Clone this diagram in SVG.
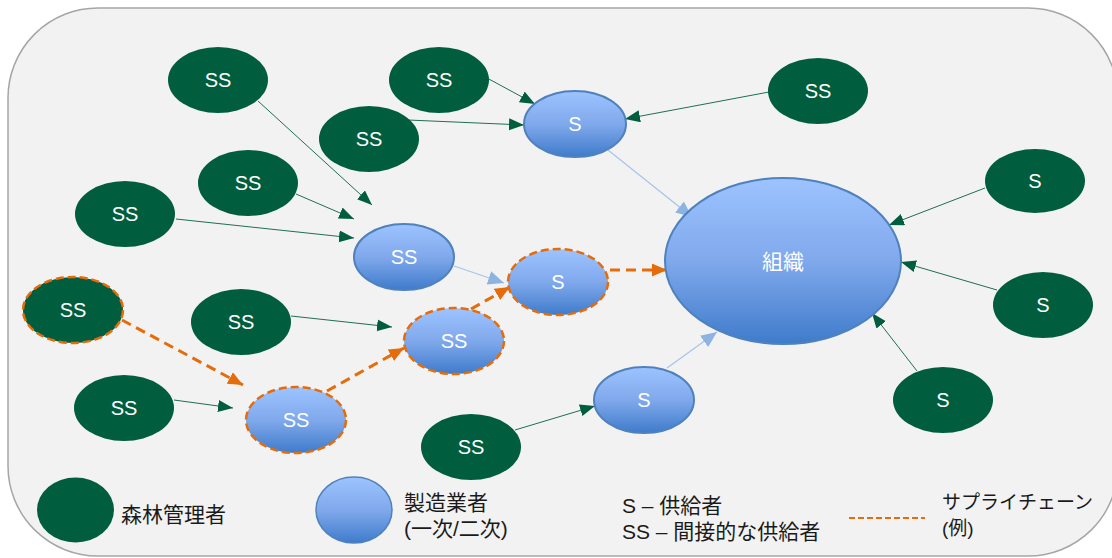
<svg xmlns="http://www.w3.org/2000/svg" width="1112" height="558" viewBox="0 0 1112 558">
<defs>
<linearGradient id="blueGrad" x1="0" y1="0" x2="0" y2="1">
<stop offset="0" stop-color="#9DC3FF"/>
<stop offset="0.5" stop-color="#80A9EC"/>
<stop offset="1" stop-color="#3F7BCB"/>
</linearGradient>
<marker id="arrG" markerUnits="userSpaceOnUse" markerWidth="16" markerHeight="13" refX="15" refY="6" orient="auto">
<path d="M0,0 L15,6 L0,12 Z" fill="#005E3E"/>
</marker>
<marker id="arrB" markerUnits="userSpaceOnUse" markerWidth="17" markerHeight="15" refX="16" refY="7" orient="auto">
<path d="M0,0 L16,7 L0,14 Z" fill="#8DB3E2"/>
</marker>
<marker id="arrO" markerUnits="userSpaceOnUse" markerWidth="16" markerHeight="14" refX="15" refY="6.5" orient="auto">
<path d="M0,0 L15,6.5 L0,13 Z" fill="#E46C0A"/>
</marker>
<style>
.g { fill:#005E3E; }
.b { fill:url(#blueGrad); stroke:#4F81BD; stroke-width:2; }
.bd { fill:url(#blueGrad); stroke:#E46C0A; stroke-width:2.5; stroke-dasharray:8 4; }
.gd { fill:#005E3E; stroke:#E46C0A; stroke-width:2.5; stroke-dasharray:8 4; }
.lbl { font-family:'Liberation Sans','Noto Sans CJK JP',sans-serif; font-size:20px; fill:#FFFFFF; text-anchor:middle; }
.org { font-size:21px; }
.leg { font-family:'Liberation Sans','Noto Sans CJK JP',sans-serif; font-size:21px; fill:#1A1A1A; }
.leg.sm { font-size:19px; }
.cg { stroke:#1F6F50; stroke-width:1; fill:none; marker-end:url(#arrG); }
.cb { stroke:#A7C4EA; stroke-width:1.2; fill:none; marker-end:url(#arrB); }
.co { stroke:#E46C0A; stroke-width:3; stroke-dasharray:10 6; fill:none; marker-end:url(#arrO); }
</style>
</defs>
<rect x="8" y="8" width="1110" height="548" rx="90" ry="90" fill="#F2F2F2" stroke="#A6A6A6" stroke-width="1.5"/>

<g id="connectors">
<line class="cg" x1="258" y1="101" x2="372" y2="205"/>
<line class="cg" x1="296" y1="194" x2="354" y2="219"/>
<line class="cg" x1="176" y1="219" x2="354" y2="238"/>
<line class="cg" x1="487" y1="78" x2="535" y2="104"/>
<line class="cg" x1="408" y1="120" x2="524" y2="125"/>
<line class="cg" x1="769" y1="92" x2="625" y2="119"/>
<line class="cg" x1="985" y1="188" x2="889" y2="225"/>
<line class="cg" x1="997" y1="290" x2="901" y2="262"/>
<line class="cg" x1="917" y1="371" x2="872" y2="313"/>
<line class="cg" x1="291" y1="316" x2="392" y2="327"/>
<line class="cg" x1="174" y1="400" x2="233" y2="408"/>
<line class="cg" x1="515" y1="430" x2="595" y2="406"/>
<line class="cb" x1="608" y1="150" x2="692" y2="217"/>
<line class="cb" x1="454" y1="266" x2="504" y2="283"/>
<line class="cb" x1="667" y1="368" x2="717" y2="332"/>
<line class="co" x1="122" y1="320" x2="243" y2="385"/>
<line class="co" x1="327" y1="391" x2="404" y2="348"/>
<line class="co" x1="471" y1="309" x2="510" y2="287"/>
<line class="co" x1="610" y1="270" x2="667" y2="270"/>
</g>

<g id="org"><ellipse class="b" cx="783" cy="261" rx="118" ry="83"/><text class="lbl org" x="783" y="269">組織</text></g>

<g id="s-top"><ellipse class="b" cx="575" cy="124" rx="51" ry="33"/><text class="lbl" x="575" y="131">S</text></g>
<g id="ss-mfr"><ellipse class="b" cx="404" cy="257" rx="50" ry="33"/><text class="lbl" x="404" y="264">SS</text></g>
<g id="s-chain"><ellipse class="bd" cx="558" cy="282" rx="50" ry="33"/><text class="lbl" x="558" y="289">S</text></g>
<g id="ss-chain2"><ellipse class="bd" cx="454" cy="341" rx="50" ry="33"/><text class="lbl" x="454" y="348">SS</text></g>
<g id="ss-chain1"><ellipse class="bd" cx="296" cy="420" rx="50" ry="33"/><text class="lbl" x="296" y="427">SS</text></g>
<g id="s-bottom"><ellipse class="b" cx="644" cy="400" rx="50" ry="33"/><text class="lbl" x="644" y="407">S</text></g>

<g id="ss-1"><ellipse class="g" cx="218" cy="80" rx="50" ry="33"/><text class="lbl" x="218" y="87">SS</text></g>
<g id="ss-2"><ellipse class="g" cx="439" cy="80" rx="50" ry="33"/><text class="lbl" x="439" y="87">SS</text></g>
<g id="ss-3"><ellipse class="g" cx="369" cy="139" rx="50" ry="33"/><text class="lbl" x="369" y="146">SS</text></g>
<g id="ss-4"><ellipse class="g" cx="818" cy="91" rx="50" ry="33"/><text class="lbl" x="818" y="98">SS</text></g>
<g id="ss-5"><ellipse class="g" cx="248" cy="183" rx="50" ry="33"/><text class="lbl" x="248" y="190">SS</text></g>
<g id="ss-6"><ellipse class="g" cx="125" cy="214" rx="50" ry="33"/><text class="lbl" x="125" y="221">SS</text></g>
<g id="ss-chain0"><ellipse class="gd" cx="73" cy="310" rx="50" ry="33"/><text class="lbl" x="73" y="317">SS</text></g>
<g id="ss-7"><ellipse class="g" cx="241" cy="322" rx="50" ry="33"/><text class="lbl" x="241" y="329">SS</text></g>
<g id="ss-8"><ellipse class="g" cx="124" cy="408" rx="50" ry="33"/><text class="lbl" x="124" y="415">SS</text></g>
<g id="ss-9"><ellipse class="g" cx="471" cy="447" rx="50" ry="33"/><text class="lbl" x="471" y="454">SS</text></g>
<g id="s-r1"><ellipse class="g" cx="1035" cy="181" rx="50" ry="32"/><text class="lbl" x="1035" y="188">S</text></g>
<g id="s-r2"><ellipse class="g" cx="1043" cy="305" rx="50" ry="33"/><text class="lbl" x="1043" y="312">S</text></g>
<g id="s-r3"><ellipse class="g" cx="943" cy="400" rx="50" ry="33"/><text class="lbl" x="943" y="407">S</text></g>

<g id="legend">
<ellipse class="g" cx="75.5" cy="510" rx="38.5" ry="32.5"/>
<text class="leg" x="121" y="522">森林管理者</text>
<ellipse fill="url(#blueGrad)" stroke="#4F81BD" stroke-width="1.5" cx="354" cy="510" rx="38" ry="33"/>
<text class="leg" x="404" y="510">製造業者</text>
<text class="leg" x="404" y="536">(一次/二次)</text>
<text class="leg" x="622" y="513">S – 供給者</text>
<text class="leg" x="622" y="539">SS – 間接的な供給者</text>
<line x1="849" y1="518" x2="925" y2="518" stroke="#E46C0A" stroke-width="2" stroke-dasharray="6 3"/>
<text class="leg sm" x="942" y="509">サプライチェーン</text>
<text class="leg sm" x="942" y="535">(例)</text>
</g>
</svg>
